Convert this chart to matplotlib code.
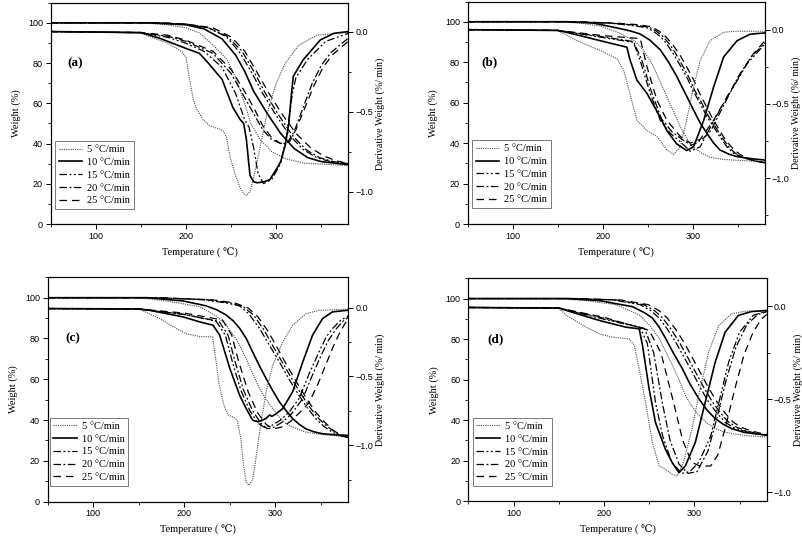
import matplotlib
matplotlib.use("Agg")
import matplotlib.pyplot as plt
from matplotlib.ticker import MultipleLocator

# ---------------- data ----------------
rate_labels = ["5 °C/min", "10 °C/min", "15 °C/min", "20 °C/min", "25 °C/min"]
panel_labels = ["(a)", "(b)", "(c)", "(d)"]

# ---- panel (a): TG (weight %) ----
a_tg5_x = [50, 150, 180, 200, 215, 230, 245, 255, 265, 272, 282, 295, 310, 330, 380]
a_tg5_y = [100, 100, 99, 97.5, 95, 89, 82, 73, 60, 50, 42, 36, 32.5, 30.3, 29]
a_tg10_x = [50, 160, 200, 220, 240, 255, 265, 275, 290, 305, 320, 335, 350, 380]
a_tg10_y = [100, 100, 99, 97, 92, 84, 76, 66, 55, 45, 37.5, 33, 31, 29.5]
a_tg15_x = [50, 170, 200, 225, 245, 260, 272, 285, 300, 315, 330, 345, 360, 380]
a_tg15_y = [100, 100, 99.3, 97.5, 93, 85, 76, 65, 54, 44, 37, 33, 31, 29.8]
a_tg20_x = [50, 170, 200, 225, 245, 262, 275, 288, 303, 318, 333, 348, 363, 380]
a_tg20_y = [100, 100, 99.3, 97.5, 93.5, 86, 76, 65, 54, 44, 37, 33, 31, 30]
a_tg25_x = [50, 170, 200, 230, 250, 265, 278, 292, 306, 322, 338, 352, 366, 380]
a_tg25_y = [100, 100, 99.4, 97.5, 93, 86, 76, 65, 55, 45, 38, 34, 31.5, 30]
# ---- panel (a): DTG (%/min) ----
a_dtg5_x = [50, 150, 180, 195, 200, 204, 208, 212, 219, 226, 235, 241, 245, 249, 255, 260,
            264, 267, 271, 276, 283, 290, 300, 310, 325, 345, 380]
a_dtg5_y = [0, -0.01, -0.073, -0.123, -0.161, -0.298, -0.423, -0.486, -0.548, -0.586, -0.604,
            -0.617, -0.661, -0.786, -0.898, -0.973, -1.011, -1.023, -0.998, -0.886, -0.698,
            -0.511, -0.323, -0.198, -0.086, -0.023, -0.004]
a_dtg10_x = [50, 150, 171, 199, 215, 225, 240, 252, 260, 264, 267, 269, 271, 275, 279, 287,
             293, 300, 305, 310, 314, 317, 319, 330, 349, 364, 380]
a_dtg10_y = [0, -0.006, -0.042, -0.103, -0.136, -0.198, -0.298, -0.473, -0.548, -0.573, -0.673,
             -0.786, -0.898, -0.936, -0.943, -0.936, -0.923, -0.861, -0.811, -0.711, -0.573,
             -0.386, -0.279, -0.176, -0.052, -0.011, 0.0]
a_dtg15_x = [50, 150, 180, 200, 220, 240, 255, 265, 270, 275, 280, 286, 295, 305, 312, 318,
             322, 335, 355, 380]
a_dtg15_y = [0, -0.007, -0.036, -0.073, -0.123, -0.223, -0.386, -0.548, -0.598, -0.723, -0.886,
             -0.948, -0.923, -0.823, -0.636, -0.386, -0.286, -0.173, -0.061, -0.011]
a_dtg20_x = [50, 150, 180, 200, 230, 250, 265, 275, 285, 295, 305, 312, 320, 330, 340, 350,
             360, 370, 380]
a_dtg20_y = [0, -0.007, -0.029, -0.061, -0.136, -0.261, -0.411, -0.511, -0.611, -0.673, -0.698,
             -0.698, -0.623, -0.473, -0.323, -0.211, -0.136, -0.086, -0.042]
a_dtg25_x = [50, 150, 180, 200, 230, 250, 265, 275, 285, 295, 305, 315, 322, 332, 342, 352,
             362, 372, 380]
a_dtg25_y = [0, -0.006, -0.023, -0.054, -0.123, -0.236, -0.373, -0.473, -0.586, -0.661, -0.698,
             -0.686, -0.611, -0.473, -0.336, -0.223, -0.148, -0.098, -0.061]

# ---- panel (b): TG ----
b_tg5_x = [50, 150, 175, 197, 215, 234, 245, 256, 264, 271, 280, 286, 293, 300, 310, 319, 332, 345, 380]
b_tg5_y = [100, 100, 99.3, 97.9, 95, 91, 86, 78, 70, 63, 54, 48, 42.5, 38, 35, 33, 32, 31.6, 30.8]
b_tg10_x = [50, 160, 190, 215, 230, 241, 252, 264, 273, 282, 291, 300, 308, 316, 323, 330, 340, 349, 365, 380]
b_tg10_y = [100, 100, 99.3, 97, 95.5, 94, 91, 86, 80, 73, 65, 57, 50, 44.5, 40, 36.6, 34.5, 33.3, 32.3, 31.6]
b_tg15_x = [50, 170, 210, 235, 249, 257, 264, 271, 278, 285, 293, 300, 308, 315, 323, 330, 338, 345, 353, 365, 380]
b_tg15_y = [100, 100, 99.2, 98, 97, 95, 92.6, 89, 84.3, 79, 72.8, 66, 59.6, 53.5, 48, 43, 38, 35, 33.3, 31.5, 30.3]
b_tg20_x = [50, 170, 212, 237, 251, 259, 266, 273, 280, 287, 295, 302, 310, 317, 325, 332, 340, 347, 355, 367, 380]
b_tg20_y = [100, 100, 99.2, 98.3, 97.3, 95.5, 93, 89.5, 85, 79.5, 73, 66, 59.6, 53.5, 48, 43, 38, 35, 33, 31.3, 30.2]
b_tg25_x = [50, 170, 215, 240, 254, 262, 270, 277, 285, 292, 300, 307, 315, 322, 330, 337, 345, 352, 360, 370, 380]
b_tg25_y = [100, 100, 99.3, 98.5, 97.5, 95.5, 92.5, 89, 84, 78.5, 72, 65, 58, 52, 46, 41, 37, 34.5, 32.5, 31.2, 30.3]
# ---- panel (b): DTG ----
b_dtg5_x = [50, 150, 171, 197, 215.6, 223, 230, 237.8, 249, 260, 271, 278.5, 286, 293, 300.7, 308, 319, 334, 345, 380]
b_dtg5_y = [0, -0.005, -0.074, -0.14, -0.196, -0.27, -0.43, -0.61, -0.68, -0.72, -0.81, -0.84, -0.79,
            -0.61, -0.386, -0.21, -0.074, -0.018, -0.011, -0.011]
b_dtg10_x = [50, 150, 160, 197, 226.7, 230, 237.8, 249, 263.7, 271, 282, 293, 300.7, 312, 323, 334, 349, 363.7, 380]
b_dtg10_y = [0, -0.005, -0.018, -0.074, -0.118, -0.2, -0.34, -0.43, -0.59, -0.68, -0.77, -0.815, -0.79,
             -0.61, -0.386, -0.185, -0.074, -0.03, -0.022]
b_dtg15_x = [50, 150, 197, 234, 241.5, 252.6, 263.7, 275, 286, 297, 308, 315.6, 330, 345, 360, 380]
b_dtg15_y = [0, -0.005, -0.05, -0.085, -0.21, -0.43, -0.61, -0.70, -0.755, -0.82, -0.79, -0.70, -0.54,
             -0.386, -0.23, -0.096]
b_dtg20_x = [50, 150, 197, 234, 243, 254, 265, 277, 288, 298, 305, 312, 320, 335, 350, 365, 380]
b_dtg20_y = [0, -0.005, -0.045, -0.08, -0.2, -0.42, -0.60, -0.69, -0.74, -0.78, -0.76, -0.73, -0.68,
             -0.50, -0.32, -0.18, -0.09]
b_dtg25_x = [50, 150, 200, 241.5, 249, 260, 271, 286, 297, 308, 323, 338, 352.6, 367, 380]
b_dtg25_y = [0, -0.005, -0.04, -0.06, -0.25, -0.475, -0.61, -0.72, -0.765, -0.74, -0.61, -0.45, -0.30,
             -0.163, -0.074]

# ---- panel (c): TG ----
c_tg5_x = [50, 150, 180.5, 217, 235, 246, 258, 268, 276, 282.5, 290, 297, 305, 311.7, 322, 333.5, 350, 362.7, 380]
c_tg5_y = [100, 100, 98.4, 95.6, 91, 86.6, 79, 70, 62, 55.4, 50, 45.6, 41, 38.2, 36, 34.1, 33, 32.5, 31.6]
c_tg10_x = [50, 160, 198.7, 224, 236, 246, 254, 260.7, 268, 275, 282, 289.8, 297, 304.4, 312, 319, 326,
            333.5, 342, 351.7, 365, 380]
c_tg10_y = [100, 100, 98.4, 96, 94, 91.5, 88.5, 85, 80, 73.4, 67, 60.3, 54.5, 48.9, 44.5, 40.7, 38, 35.7,
            34.3, 33.3, 32.8, 32.5]
c_tg15_x = [50, 170, 220, 245, 260.7, 271, 282.5, 293, 304.4, 315, 326, 335, 344.4, 353, 362.7, 370, 380]
c_tg15_y = [100, 100, 99, 97.5, 96, 92, 85, 77, 68.5, 60, 52, 46, 40.7, 37, 34, 32.5, 31.6]
c_tg20_x = [50, 170, 225, 250, 265, 276, 287, 297, 308, 319, 330, 339, 348, 357, 366, 373, 380]
c_tg20_y = [100, 100, 99, 97.5, 95.5, 91.5, 84.5, 76.5, 68, 59.5, 51.5, 45.5, 40.5, 36.8, 34, 32.3, 31.3]
c_tg25_x = [50, 170, 230, 255, 270, 281, 292, 302, 313, 324, 335, 344, 353, 362, 370, 380]
c_tg25_y = [100, 100, 99, 97.5, 95, 90.5, 83.5, 75.5, 66.5, 58, 50, 44, 39.5, 35.5, 33, 31.5]
# ---- panel (c): DTG ----
c_dtg5_x = [50, 150, 173, 188, 202, 217, 231, 234, 238, 243, 248, 255, 258, 262, 265, 268, 271, 275,
            278, 282, 289.8, 297, 308, 319, 333.5, 348, 380]
c_dtg5_y = [-0.007, -0.01, -0.08, -0.14, -0.19, -0.21, -0.213, -0.35, -0.55, -0.70, -0.78, -0.80, -0.82,
            -0.95, -1.15, -1.27, -1.29, -1.25, -1.12, -0.93, -0.61, -0.42, -0.25, -0.128, -0.044, -0.02, -0.012]
c_dtg10_x = [50, 150, 162, 198.7, 217, 231.5, 238.8, 250, 260.7, 268, 275, 280.7, 289.8, 293.5, 296, 300,
             308, 319, 330, 340.8, 351.7, 362.7, 380]
c_dtg10_y = [-0.007, -0.01, -0.02, -0.068, -0.104, -0.128, -0.2, -0.443, -0.637, -0.734, -0.818, -0.83,
             -0.806, -0.78, -0.79, -0.775, -0.734, -0.61, -0.395, -0.2, -0.08, -0.031, -0.019]
c_dtg15_x = [50, 150, 200, 235, 245, 253, 262, 272, 281, 288, 295, 305, 315, 326, 337, 348, 356, 363, 372, 380]
c_dtg15_y = [-0.007, -0.01, -0.05, -0.1, -0.2, -0.40, -0.60, -0.75, -0.84, -0.87, -0.86, -0.82, -0.76,
             -0.66, -0.48, -0.32, -0.21, -0.15, -0.09, -0.06]
c_dtg20_x = [50, 150, 200, 238, 248, 256, 265, 275, 284, 291, 298, 308, 318, 330, 340, 350, 358, 366, 374, 380]
c_dtg20_y = [-0.007, -0.01, -0.05, -0.1, -0.2, -0.40, -0.60, -0.75, -0.84, -0.88, -0.87, -0.83, -0.77,
             -0.66, -0.50, -0.35, -0.24, -0.16, -0.10, -0.07]
c_dtg25_x = [50, 150, 200, 242, 252, 260, 270, 280, 290, 298, 306, 316, 327, 337, 347, 355, 363, 370, 376, 380]
c_dtg25_y = [-0.007, -0.01, -0.04, -0.09, -0.2, -0.40, -0.61, -0.76, -0.85, -0.88, -0.87, -0.83, -0.76,
             -0.69, -0.55, -0.42, -0.29, -0.19, -0.12, -0.08]

# ---- panel (d): TG ----
d_tg5_x = [50, 150, 180, 213, 239, 250, 261, 268, 275.5, 283, 290, 297, 304.8, 314, 323, 332, 341, 360, 380]
d_tg5_y = [100, 100, 99, 97, 92, 87, 80.5, 74, 67.3, 60, 52.4, 47, 42.5, 38.5, 35.9, 34.4, 33.4, 32.3, 31.7]
d_tg10_x = [50, 160, 195, 231.6, 245, 253.6, 261, 268, 277, 286.5, 295, 304.8, 314, 323, 332, 341, 355, 380]
d_tg10_y = [100, 100, 99, 96, 93, 90.4, 86, 80.5, 73, 65.6, 58, 50.7, 45, 40.8, 38, 35.9, 34, 32.6]
d_tg15_x = [50, 170, 210, 240, 252, 261, 270, 279, 288, 297.4, 306, 315.7, 325, 334, 343, 352, 365, 380]
d_tg15_y = [100, 100, 99.3, 97, 94, 90.4, 85, 78.8, 71.5, 64, 56.5, 49, 43.5, 39, 36.5, 35, 33.5, 32.6]
d_tg20_x = [50, 170, 214, 244, 256, 265, 274, 283, 292, 301, 310, 320, 329, 338, 347, 356, 368, 380]
d_tg20_y = [100, 100, 99.3, 97, 94, 90.4, 85, 78.8, 71.5, 64, 56.5, 49, 43.5, 39, 36.5, 35, 33.5, 32.8]
d_tg25_x = [50, 170, 219, 249, 261, 270, 279, 288, 297, 306, 315, 325, 334, 343, 352, 361, 371, 380]
d_tg25_y = [100, 100, 99.3, 97, 94, 90.4, 85, 78.8, 71.5, 64, 56.5, 49, 43.5, 39, 36.5, 35, 33.8, 33]
# ---- panel (d): DTG ----
d_dtg5_x = [50, 150, 158.5, 180.4, 195, 209.7, 228, 233.5, 239, 246, 253.6, 261, 268, 275.5, 281, 288,
            297.4, 304.8, 315.7, 327, 341, 356, 380]
d_dtg5_y = [-0.007, -0.01, -0.05, -0.113, -0.149, -0.167, -0.176, -0.21, -0.338, -0.518, -0.734, -0.86,
            -0.878, -0.905, -0.914, -0.84, -0.66, -0.482, -0.248, -0.104, -0.041, -0.027, -0.027]
d_dtg10_x = [50, 150, 158.5, 195, 224.3, 239, 242.6, 250, 257, 268, 275.5, 283, 290, 301, 312, 323, 334,
             348.6, 363, 380]
d_dtg10_y = [-0.007, -0.01, -0.023, -0.077, -0.113, -0.122, -0.21, -0.446, -0.626, -0.77, -0.842, -0.896,
             -0.86, -0.734, -0.518, -0.302, -0.14, -0.05, -0.029, -0.023]
d_dtg15_x = [50, 150, 200, 240, 248, 257, 265, 275, 286, 295, 305, 318, 328, 338, 350, 365, 380]
d_dtg15_y = [-0.007, -0.01, -0.07, -0.115, -0.2, -0.518, -0.70, -0.84, -0.90, -0.89, -0.84, -0.70, -0.5,
             -0.30, -0.14, -0.05, -0.025]
d_dtg20_x = [50, 150, 200, 245, 255, 264.5, 273, 283, 293, 303, 315, 325, 335, 346, 358, 370, 380]
d_dtg20_y = [-0.007, -0.01, -0.065, -0.12, -0.25, -0.518, -0.72, -0.85, -0.90, -0.89, -0.78, -0.6, -0.40,
             -0.22, -0.10, -0.045, -0.03]
d_dtg25_x = [50, 150, 200, 250, 263, 277, 287, 297, 306, 318, 326, 335, 345, 355, 365, 374, 380]
d_dtg25_y = [-0.007, -0.01, -0.06, -0.13, -0.25, -0.518, -0.72, -0.84, -0.86, -0.86, -0.8, -0.64, -0.44,
             -0.26, -0.14, -0.07, -0.045]

# right-axis (derivative) limits per panel
dtg_limits = [(-1.2, 0.18), (-1.31, 0.19), (-1.41, 0.22), (-1.05, 0.15)]

# ---------------- styling ----------------
SERIF = ["Liberation Serif", "DejaVu Serif", "DejaVu Sans"]
SANS = ["Liberation Sans", "DejaVu Sans"]
line_styles = [
    dict(ls=(0, (1, 1)), lw=0.8, color="0.3"),
    dict(ls="-", lw=1.2, color="black"),
    dict(ls=(0, (6, 2, 1.5, 2, 1.5, 2)), lw=0.9, color="black"),
    dict(ls=(0, (6, 2, 1.5, 2)), lw=0.9, color="black"),
    dict(ls=(0, (6, 4)), lw=0.9, color="black"),
]

panels = [
    ([(a_tg5_x, a_tg5_y), (a_tg10_x, a_tg10_y), (a_tg15_x, a_tg15_y), (a_tg20_x, a_tg20_y), (a_tg25_x, a_tg25_y)],
     [(a_dtg5_x, a_dtg5_y), (a_dtg10_x, a_dtg10_y), (a_dtg15_x, a_dtg15_y), (a_dtg20_x, a_dtg20_y), (a_dtg25_x, a_dtg25_y)]),
    ([(b_tg5_x, b_tg5_y), (b_tg10_x, b_tg10_y), (b_tg15_x, b_tg15_y), (b_tg20_x, b_tg20_y), (b_tg25_x, b_tg25_y)],
     [(b_dtg5_x, b_dtg5_y), (b_dtg10_x, b_dtg10_y), (b_dtg15_x, b_dtg15_y), (b_dtg20_x, b_dtg20_y), (b_dtg25_x, b_dtg25_y)]),
    ([(c_tg5_x, c_tg5_y), (c_tg10_x, c_tg10_y), (c_tg15_x, c_tg15_y), (c_tg20_x, c_tg20_y), (c_tg25_x, c_tg25_y)],
     [(c_dtg5_x, c_dtg5_y), (c_dtg10_x, c_dtg10_y), (c_dtg15_x, c_dtg15_y), (c_dtg20_x, c_dtg20_y), (c_dtg25_x, c_dtg25_y)]),
    ([(d_tg5_x, d_tg5_y), (d_tg10_x, d_tg10_y), (d_tg15_x, d_tg15_y), (d_tg20_x, d_tg20_y), (d_tg25_x, d_tg25_y)],
     [(d_dtg5_x, d_dtg5_y), (d_dtg10_x, d_dtg10_y), (d_dtg15_x, d_dtg15_y), (d_dtg20_x, d_dtg20_y), (d_dtg25_x, d_dtg25_y)]),
]

W, H = 803, 538
# axes boxes in pixels: left, top, right, bottom
boxes_px = [(50.7, 2.7, 348.3, 224.0), (467.7, 1.5, 765.0, 224.0),
            (47.7, 277.3, 348.3, 501.7), (468.3, 278.3, 766.7, 501.3)]
label_x = [68.5, 65.6, 69.4, 71.5]
legend_anchor = [(0.014, 0.068), (0.014, 0.072), (0.006, 0.072), (0.015, 0.07)]

fig = plt.figure(figsize=(W / 100, H / 100), dpi=100)

for i, (tg, dtg) in enumerate(panels):
    l, t, r, b = boxes_px[i]
    ax = fig.add_axes([l / W, 1 - b / H, (r - l) / W, (b - t) / H])
    ax2 = ax.twinx()
    handles = []
    for k, (xs, ys) in enumerate(tg):
        h, = ax.plot(xs, ys, label=rate_labels[k], **line_styles[k])
        handles.append(h)
    for k, (xs, ys) in enumerate(dtg):
        ax2.plot(xs, ys, **line_styles[k])

    ax.set_xlim(50, 380)
    ax.set_ylim(0, 110)
    ax2.set_ylim(*dtg_limits[i])

    ax.xaxis.set_major_locator(MultipleLocator(100))
    ax.xaxis.set_minor_locator(MultipleLocator(50))
    ax.yaxis.set_major_locator(MultipleLocator(20))
    ax.yaxis.set_minor_locator(MultipleLocator(10))
    ax2.yaxis.set_major_locator(MultipleLocator(0.5))
    ax2.yaxis.set_minor_locator(MultipleLocator(0.25))
    for a in (ax, ax2):
        a.tick_params(which="major", direction="out", length=3.5, width=0.7, labelsize=6.5, pad=2)
        a.tick_params(which="minor", direction="out", length=2, width=0.6)
        for sp in a.spines.values():
            sp.set_linewidth(0.8)
        for lab in a.get_xticklabels() + a.get_yticklabels():
            lab.set_family(SANS)
    ax2.tick_params(which="major", pad=1.5)
    ax.tick_params(axis="x", which="both", top=False)

    ax.set_xlabel("Temperature ( \u2103)", family=SERIF, fontsize=7.5, labelpad=5)
    ax.set_ylabel("Weight (%)", family=SERIF, fontsize=7.5, labelpad=5)
    ax2.set_ylabel("Derivative Weight (%/ min)", family=SERIF, fontsize=7.2, labelpad=1.5)

    ax.text(label_x[i], 80, panel_labels[i], family=SERIF, fontsize=9.5, fontweight="bold",
            ha="left", va="center")

    leg = ax2.legend(handles=handles, loc="lower left", bbox_to_anchor=legend_anchor[i],
                     borderaxespad=0, frameon=True, fancybox=False, framealpha=1,
                     edgecolor="0.4", prop=dict(family=SERIF, size=7.5),
                     handlelength=2.3, handletextpad=0.45, labelspacing=0.33, borderpad=0.35)
    leg.get_frame().set_linewidth(0.6)

fig.savefig("out.png", dpi=100)
